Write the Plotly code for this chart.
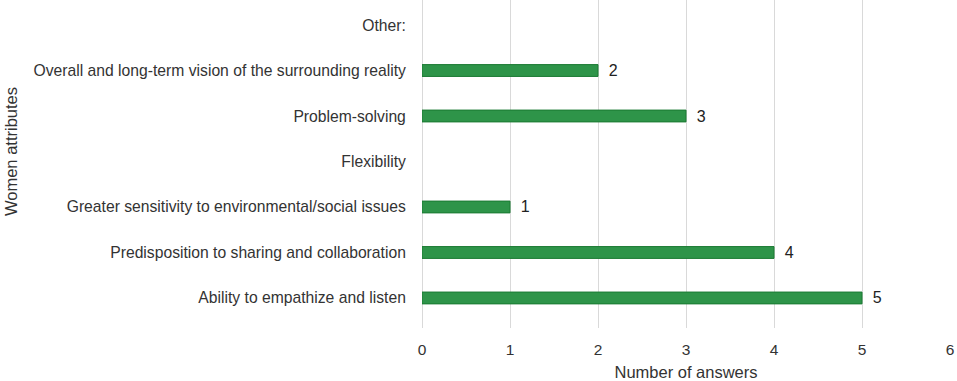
import plotly.graph_objects as go

categories = [
    "Ability to empathize and listen",
    "Predisposition to sharing and collaboration",
    "Greater sensitivity to environmental/social issues",
    "Flexibility",
    "Problem-solving",
    "Overall and long-term vision of the surrounding reality",
    "Other:",
]
values = [5, 4, 1, None, 3, 2, None]
labels = ["" if v is None else str(v) for v in values]

L, R, T, B = 422, 7, 0, 53
W, H = 957, 381
pw = W - L - R

fig = go.Figure()
fig.add_trace(go.Bar(
    x=values, y=categories, orientation="h",
    marker=dict(color="#2e9449", line=dict(color="#1b7a33", width=1)),
    width=0.26,
    text=labels, textposition="outside", constraintext="none",
    texttemplate=" \u2009%{text}",
    textfont=dict(family="Liberation Sans, Arial", size=16, color="#222"),
    cliponaxis=False, hoverinfo="skip",
))
fig.update_layout(
    width=W, height=H,
    margin=dict(l=L, r=R, t=T, b=B),
    plot_bgcolor="white", paper_bgcolor="white",
    font=dict(family="Liberation Sans, Arial", size=15.7, color="#333"),
    showlegend=False,
    xaxis=dict(range=[0, 6], dtick=1, showgrid=True, gridcolor="#d9d9d9", gridwidth=1,
               zeroline=True, zerolinecolor="#d9d9d9", zerolinewidth=1,
               showline=False, ticks="outside", ticklen=7, tickcolor="rgba(0,0,0,0)",
               tickfont=dict(size=15.5, color="#333"),
               title=dict(text="Number of answers", font=dict(size=16.5, color="#333"), standoff=10),
               automargin=False),
    yaxis=dict(categoryorder="array", categoryarray=categories, range=[-0.66, 6.55],
               showgrid=False, showline=False, ticks="outside", ticklen=12, tickcolor="rgba(0,0,0,0)",
               tickfont=dict(size=15.7, color="#333"),
               automargin=False),
    annotations=[dict(text="Women attributes", xref="paper", yref="paper",
                      x=(11 - L) / pw, y=1 - 152 / (H - B), xanchor="center", yanchor="middle",
                      textangle=-90, showarrow=False,
                      font=dict(size=16.5, color="#333"))],
)
fig.write_html("out.html", config={"displayModeBar": False},
               post_script="document.body.style.margin='0';")
